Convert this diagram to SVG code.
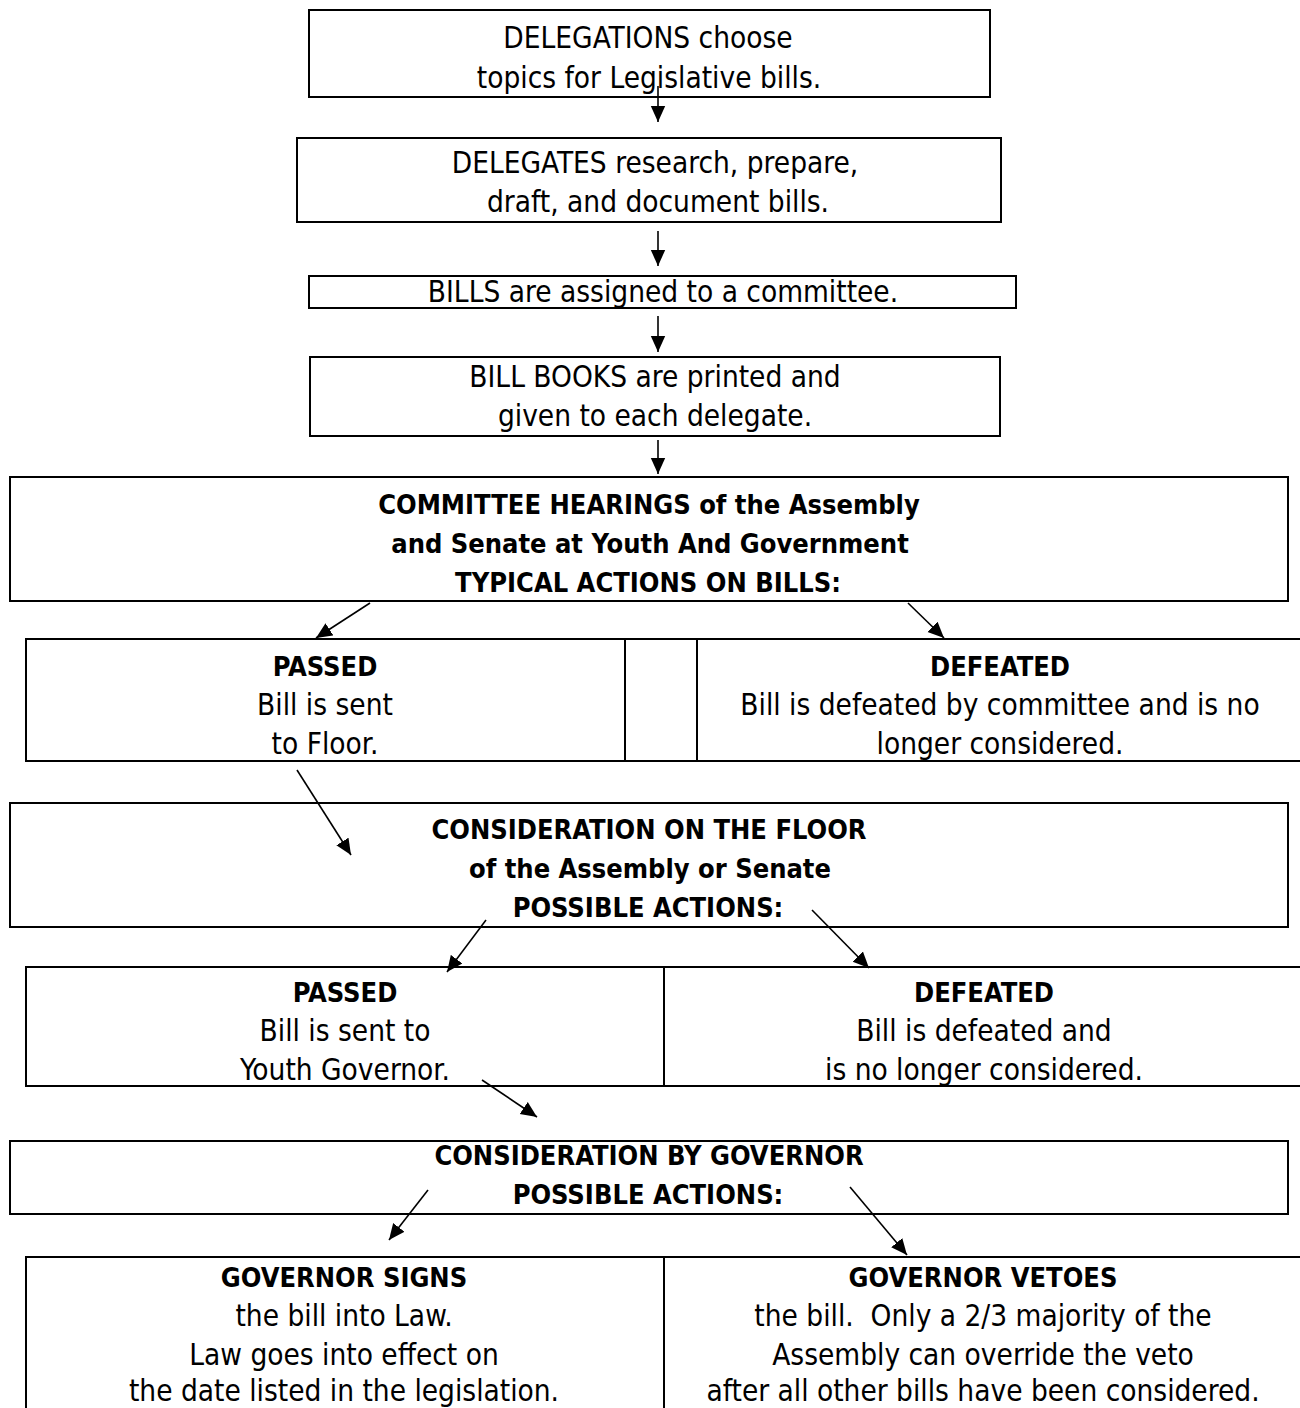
<svg xmlns="http://www.w3.org/2000/svg" width="1300" height="1408" viewBox="0 0 1300 1408">
<style>
.box{fill:#fff;stroke:#000;stroke-width:2}
.t{font-family:"DejaVu Sans Condensed","DejaVu Sans",sans-serif;font-stretch:condensed;font-size:29.5px;fill:#000;text-anchor:middle;white-space:pre}
.b{font-family:"DejaVu Sans Condensed","DejaVu Sans",sans-serif;font-stretch:condensed;font-weight:bold;font-size:27px;fill:#000;text-anchor:middle}
.c{stroke:#000;stroke-width:1.6;fill:none;marker-end:url(#ah)}
</style>
<defs>
<marker id="ah" viewBox="0 0 10 10" refX="10" refY="5" markerUnits="userSpaceOnUse" markerWidth="16" markerHeight="16" orient="auto">
<path d="M0,0.5 L10,5 L0,9.5 z" fill="#000"/>
</marker>
</defs>
<rect width="1300" height="1408" fill="#fff"/>
<g id="n1"><rect class="box" x="309" y="10" width="681" height="87"/>
<text class="t" x="648" y="48">DELEGATIONS choose</text>
<text class="t" x="649" y="88">topics for Legislative bills.</text></g>
<g id="n2"><rect class="box" x="297" y="138" width="704" height="84"/>
<text class="t" x="655" y="173">DELEGATES research, prepare,</text>
<text class="t" x="658" y="212">draft, and document bills.</text></g>
<g id="n3"><rect class="box" x="309" y="276" width="707" height="32"/>
<text class="t" x="663" y="302">BILLS are assigned to a committee.</text></g>
<g id="n4"><rect class="box" x="310" y="357" width="690" height="79"/>
<text class="t" x="655" y="387">BILL BOOKS are printed and</text>
<text class="t" x="655" y="426">given to each delegate.</text></g>
<g id="n5"><rect class="box" x="10" y="477" width="1278" height="124"/>
<text class="b" x="649" y="514">COMMITTEE HEARINGS of the Assembly</text>
<text class="b" x="650" y="553">and Senate at Youth And Government</text>
<text class="b" x="648" y="592">TYPICAL ACTIONS ON BILLS:</text></g>
<g id="n6"><rect class="box" x="26" y="639" width="599" height="122"/>
<text class="b" x="325" y="676">PASSED</text>
<text class="t" x="325" y="715">Bill is sent</text>
<text class="t" x="325" y="754">to Floor.</text></g>
<g id="n6b"><rect class="box" x="625" y="639" width="72" height="122"/></g>
<g id="n7"><rect class="box" x="697" y="639" width="606" height="122"/>
<text class="b" x="1000" y="676">DEFEATED</text>
<text class="t" x="1000" y="715">Bill is defeated by committee and is no</text>
<text class="t" x="1000" y="754">longer considered.</text></g>
<g id="n8"><rect class="box" x="10" y="803" width="1278" height="124"/>
<text class="b" x="649" y="839">CONSIDERATION ON THE FLOOR</text>
<text class="b" x="650" y="878">of the Assembly or Senate</text>
<text class="b" x="648" y="917">POSSIBLE ACTIONS:</text></g>
<g id="n9"><rect class="box" x="26" y="967" width="638" height="119"/>
<text class="b" x="345" y="1002">PASSED</text>
<text class="t" x="345" y="1041">Bill is sent to</text>
<text class="t" x="345" y="1080">Youth Governor.</text></g>
<g id="n10"><rect class="box" x="664" y="967" width="639" height="119"/>
<text class="b" x="984" y="1002">DEFEATED</text>
<text class="t" x="984" y="1041">Bill is defeated and</text>
<text class="t" x="984" y="1080">is no longer considered.</text></g>
<g id="n11"><rect class="box" x="10" y="1141" width="1278" height="73"/>
<text class="b" x="649" y="1165">CONSIDERATION BY GOVERNOR</text>
<text class="b" x="648" y="1204">POSSIBLE ACTIONS:</text></g>
<g id="n12"><rect class="box" x="26" y="1257" width="638" height="160"/>
<text class="b" x="344" y="1287">GOVERNOR SIGNS</text>
<text class="t" x="344" y="1326">the bill into Law.</text>
<text class="t" x="344" y="1365">Law goes into effect on</text>
<text class="t" x="344" y="1401">the date listed in the legislation.</text></g>
<g id="n13"><rect class="box" x="664" y="1257" width="639" height="160"/>
<text class="b" x="983" y="1287">GOVERNOR VETOES</text>
<text class="t" x="983" y="1326">the bill.  Only a 2/3 majority of the</text>
<text class="t" x="983" y="1365">Assembly can override the veto</text>
<text class="t" x="983" y="1401">after all other bills have been considered.</text></g>
<g id="connectors">
<line class="c" x1="658" y1="86" x2="658" y2="122"/>
<line class="c" x1="658" y1="231" x2="658" y2="266"/>
<line class="c" x1="658" y1="316" x2="658" y2="352"/>
<line class="c" x1="658" y1="440" x2="658" y2="474"/>
<line class="c" x1="370" y1="603" x2="316" y2="638"/>
<line class="c" x1="908" y1="603" x2="944" y2="638"/>
<line class="c" x1="297" y1="770" x2="351" y2="855"/>
<line class="c" x1="486" y1="920" x2="447" y2="972"/>
<line class="c" x1="812" y1="910" x2="869" y2="968"/>
<line class="c" x1="482" y1="1080" x2="537" y2="1117"/>
<line class="c" x1="428" y1="1190" x2="389" y2="1240"/>
<line class="c" x1="850" y1="1187" x2="907" y2="1255"/>
</g>
</svg>
